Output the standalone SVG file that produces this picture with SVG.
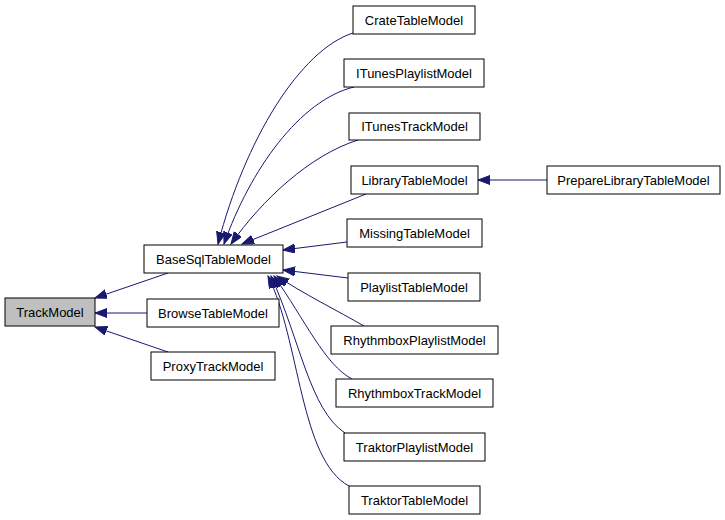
<svg xmlns="http://www.w3.org/2000/svg" width="725" height="520" viewBox="0 0 725 520">
<style>
.n rect{fill:#ffffff;stroke:#000000;stroke-width:1}
.n text{font-family:"Liberation Sans",Arial,sans-serif;font-size:13px;text-anchor:middle;fill:#000000}
#TrackModel rect{fill:#bfbfbf}
.e path{fill:none;stroke:#191970;stroke-width:1;marker-end:url(#arr)}
</style>
<defs>
<marker id="arr" markerUnits="userSpaceOnUse" markerWidth="13" markerHeight="11" refX="12" refY="4.5" orient="auto">
<path d="M0,0 L12,4.5 L0,9 z" fill="#191970" stroke="#191970" stroke-width="1"/>
</marker>
</defs>
<rect width="725" height="520" fill="#ffffff"/>
<g id="connectors" class="e">
<path d="M168,273 L95,298"/>
<path d="M147,313 L95,313"/>
<path d="M168,352 L95,327"/>
<path d="M353,33 C300,50 245,140 218,244"/>
<path d="M354,87 C300,100 250,170 224,244"/>
<path d="M358,140 C310,155 262,200 231,244"/>
<path d="M366,194 L242,244"/>
<path d="M347,242 L283,250"/>
<path d="M348,278 L283,270"/>
<path d="M364,326 C340,312 300,292 277,276"/>
<path d="M352,379 C325,365 305,320 274,276"/>
<path d="M345,433 C310,410 300,340 271,276"/>
<path d="M349,486 C300,460 300,340 268,276"/>
<path d="M547,180 L478,180"/>
</g>
<g id="TrackModel" class="n"><rect x="5" y="298" width="90" height="28"/><text x="50" y="316.5">TrackModel</text></g>
<g id="BaseSqlTableModel" class="n"><rect x="144" y="245" width="139" height="28"/><text x="213.5" y="263.5">BaseSqlTableModel</text></g>
<g id="BrowseTableModel" class="n"><rect x="147" y="299" width="132" height="28"/><text x="213" y="317.5">BrowseTableModel</text></g>
<g id="ProxyTrackModel" class="n"><rect x="151" y="352" width="124" height="28"/><text x="213" y="370.5">ProxyTrackModel</text></g>
<g id="CrateTableModel" class="n"><rect x="353" y="6" width="122" height="28"/><text x="414" y="24.5">CrateTableModel</text></g>
<g id="ITunesPlaylistModel" class="n"><rect x="344" y="59" width="140" height="28"/><text x="414" y="77.5">ITunesPlaylistModel</text></g>
<g id="ITunesTrackModel" class="n"><rect x="349" y="113" width="131" height="27"/><text x="414.5" y="131">ITunesTrackModel</text></g>
<g id="LibraryTableModel" class="n"><rect x="351" y="166" width="127" height="28"/><text x="414.5" y="184.5">LibraryTableModel</text></g>
<g id="MissingTableModel" class="n"><rect x="347" y="219" width="135" height="28"/><text x="414.5" y="237.5">MissingTableModel</text></g>
<g id="PlaylistTableModel" class="n"><rect x="348" y="273" width="132" height="28"/><text x="414" y="291.5">PlaylistTableModel</text></g>
<g id="RhythmboxPlaylistModel" class="n"><rect x="331" y="326" width="167" height="28"/><text x="414.5" y="344.5">RhythmboxPlaylistModel</text></g>
<g id="RhythmboxTrackModel" class="n"><rect x="336" y="379" width="157" height="28"/><text x="414.5" y="397.5">RhythmboxTrackModel</text></g>
<g id="TraktorPlaylistModel" class="n"><rect x="344" y="433" width="141" height="28"/><text x="414.5" y="451.5">TraktorPlaylistModel</text></g>
<g id="TraktorTableModel" class="n"><rect x="349" y="486" width="131" height="28"/><text x="414.5" y="504.5">TraktorTableModel</text></g>
<g id="PrepareLibraryTableModel" class="n"><rect x="547" y="166" width="173" height="28"/><text x="633.5" y="184.5">PrepareLibraryTableModel</text></g>
</svg>
